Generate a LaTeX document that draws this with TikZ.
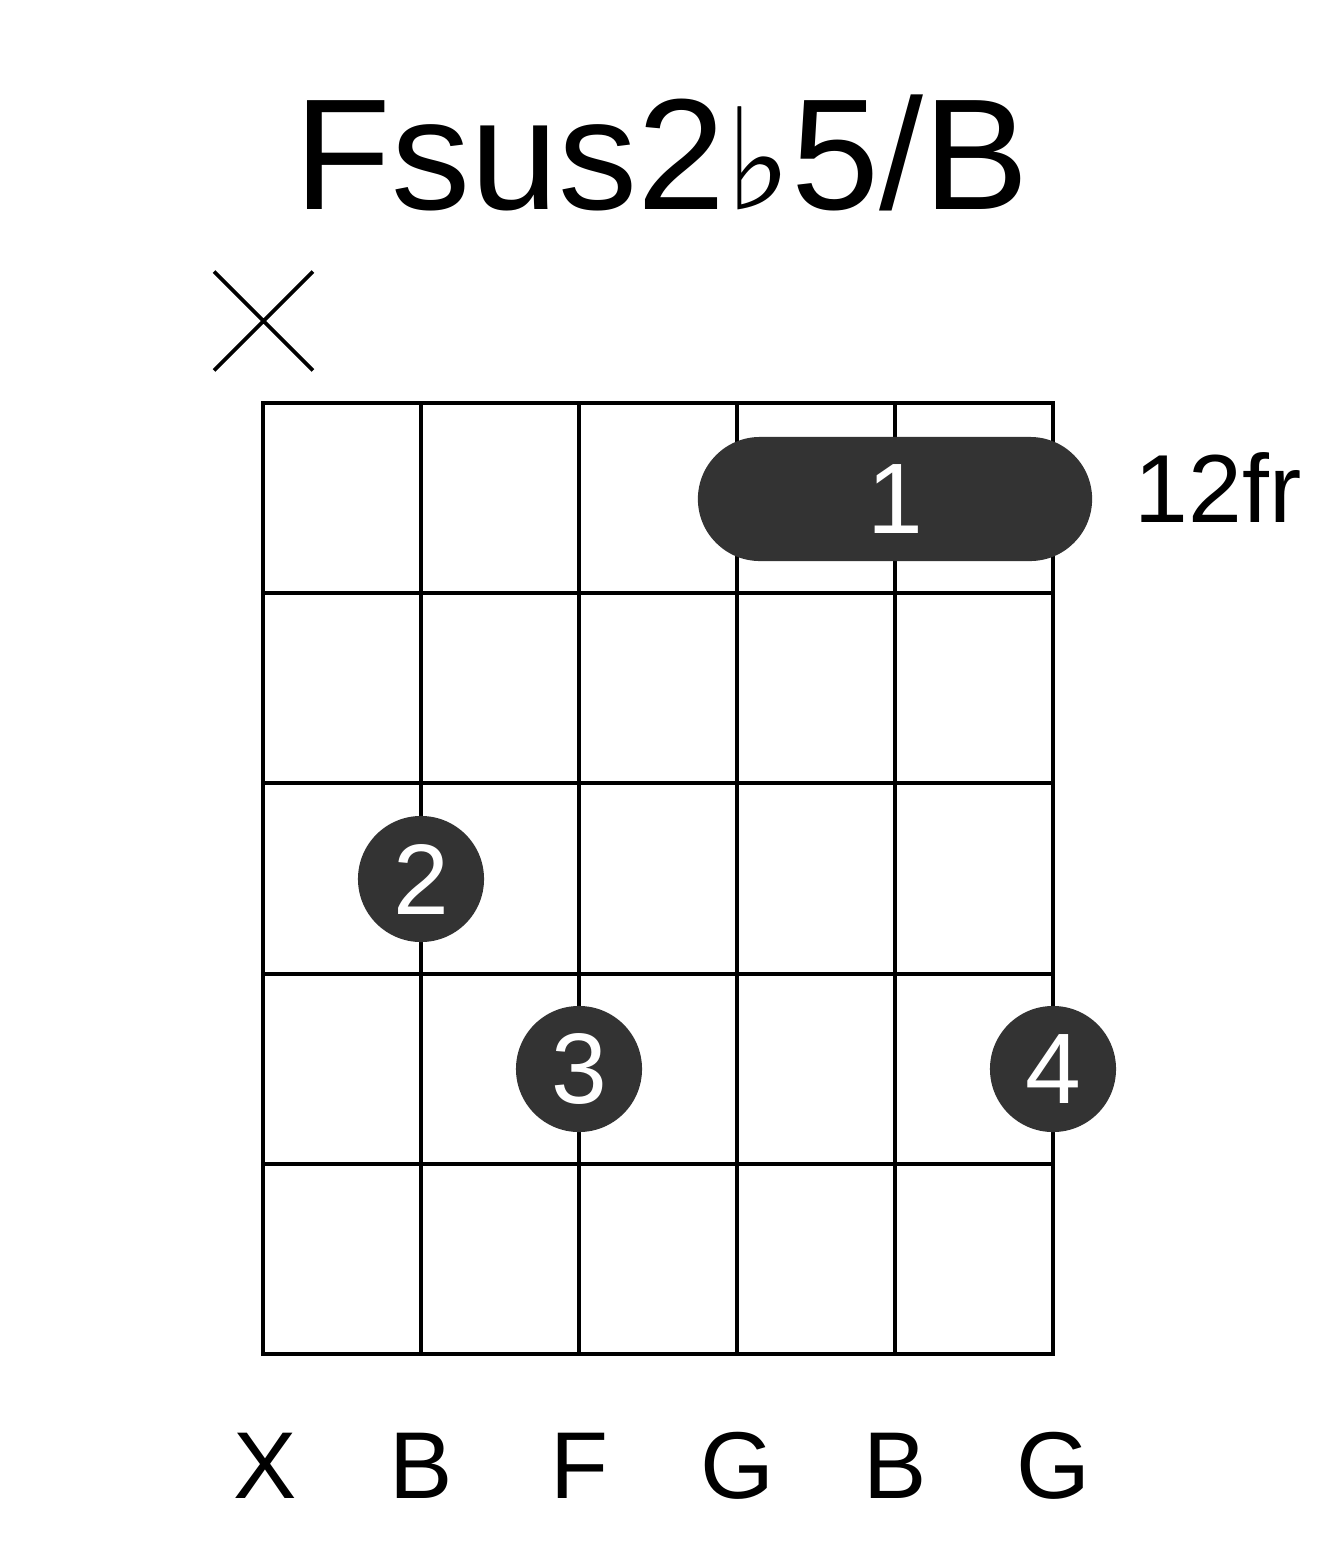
\documentclass[tikz,border=0pt]{standalone}
\usepackage{fontspec}
\setmainfont{Liberation Sans}
\newfontfamily\flatfont{DejaVu Sans}
\usetikzlibrary{positioning,shapes.misc}
\definecolor{dotgray}{HTML}{333333}

\begin{document}
\begin{tikzpicture}[x=0.01cm, y=-0.01cm,
  grid/.style={line width=1.15pt, line cap=rect},
  finger/.style={circle, fill=dotgray, text=white, minimum size=1.26cm, inner sep=0pt,
    font=\fontsize{28.5}{30}\selectfont},
  barre/.style={rectangle, rounded corners=0.62cm, fill=dotgray, text=white,
    minimum width=3.94cm, minimum height=1.24cm, inner sep=0pt,
    font=\fontsize{28.5}{30}\selectfont},
  mute/.style={draw, cross out, line width=1.1pt, minimum size=0.95cm, inner sep=0pt}]
\useasboundingbox (0,0) rectangle (1317,1551);
\node[anchor=base, font=\fontsize{45}{48}\selectfont] (title) at (662,209)
  {Fsus2{\flatfont\fontsize{40}{44}\selectfont ♭}5/B};
\node[mute] (mute) at (263.5,321) {};
% strings and frets
\foreach \i in {0,...,5}
  \draw[grid] (263+158*\i,403) -- (263+158*\i,1354);
\foreach \j in {0,...,5}
  \draw[grid] (263,403+190.2*\j) -- (1053,403+190.2*\j);
\node[barre] (b1) at (895,499) {1};
\node[font=\fontsize{27.5}{30}\selectfont, inner sep=0pt, anchor=base west] (fr) at (1134,522) {12fr};
\node[finger] (f2) at (421,879) {2};
\node[finger] (f3) at (579,1069) {3};
\node[finger] (f4) at (1053,1069) {4};
\foreach \x/\n [count=\k] in {265/X, 421/B, 579/F, 737/G, 895/B, 1053/G}
  \node[anchor=base, font=\fontsize{27}{30}\selectfont] (s\k) at (\x,1498) {\n};
\end{tikzpicture}
\end{document}
